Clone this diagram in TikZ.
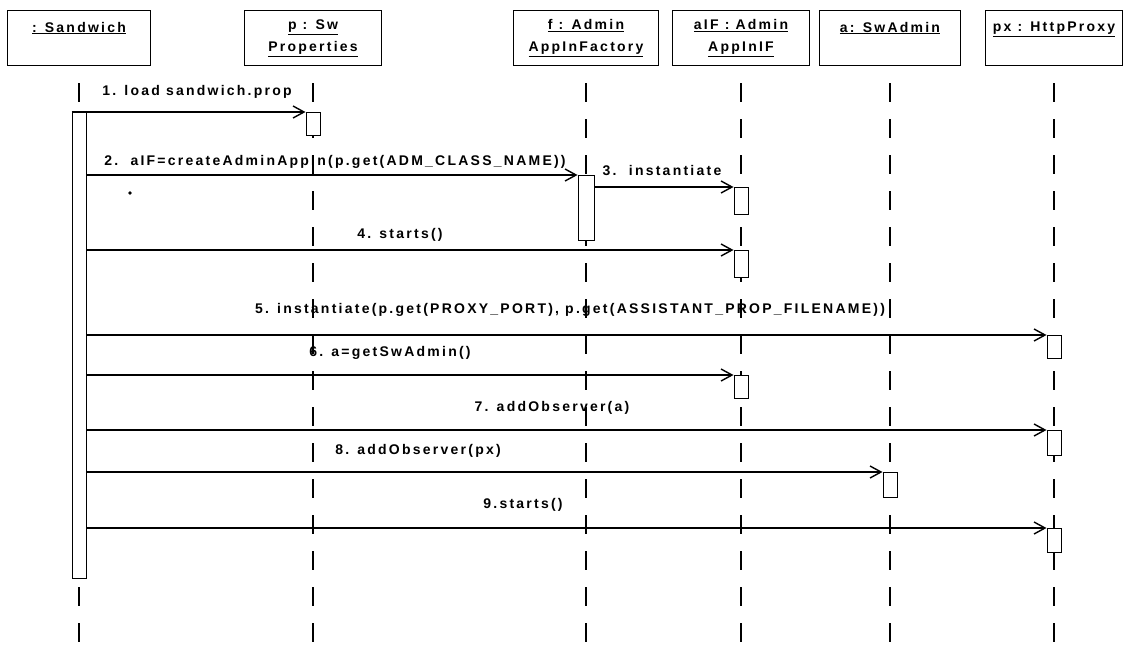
\documentclass[tikz,border=0pt]{standalone}
\usepackage{fontspec}
\newfontfamily\umlfont[LetterSpace=16]{Liberation Sans}
\usetikzlibrary{arrows.meta,positioning,calc}

\begin{document}
\begin{tikzpicture}[
    x=1pt, y=-1pt,
    font=\umlfont\bfseries\fontsize{14}{22}\selectfont,
    obj/.style={draw, line width=1pt, minimum width=137pt, minimum height=55pt,
                anchor=north, align=center, inner sep=2pt},
    life/.style={line width=1.2pt, dash pattern=on 19pt off 17pt},
    act/.style={draw, fill=white, line width=1pt, minimum width=14pt,
                anchor=north, inner sep=0pt},
    msg/.style={-{Straight Barb[length=11pt,width=12pt,line width=1.4pt]}, line width=1.4pt},
    lbl/.style={inner sep=1pt},
    ]
\useasboundingbox (0,0) rectangle (1123,651);

% objects
\node[obj, minimum width=143pt] (sandwich) at (79,10) {\underline{: Sandwich}\\ {}};
\node[obj] (props) at (313,10) {\underline{p : Sw}\\ \underline{Properties}};
\node[obj, minimum width=145pt] (factory) at (586,10) {\underline{f : Admin}\\ \underline{AppInFactory}};
\node[obj] (appin) at (741,10) {\underline{aIF : Admin}\\ \underline{AppInIF}};
\node[obj, minimum width=141pt] (swadmin) at (890,10) {\underline{a: SwAdmin}\\ {}};
\node[obj] (proxy) at (1054,10) {\underline{px : HttpProxy}\\ {}};

% lifelines
\coordinate (top) at (0,83);
\coordinate (bot) at (0,651);
\foreach \o in {sandwich,props,factory,appin,swadmin,proxy}
    \draw[life] (\o.south |- top) -- (\o.south |- bot);

% activations
\node[act, minimum height=466pt] (sact) at (79,112) {};
\node[act, minimum height=23pt] (pact) at (313,112) {};
\node[act, minimum height=65pt, minimum width=16pt] (fact) at (586,175) {};
\node[act, minimum height=27pt] (iact1) at (741,187) {};
\node[act, minimum height=27pt] (iact2) at (741,250) {};
\node[act, minimum height=23pt] (xact1) at (1054,335) {};
\node[act, minimum height=23pt] (iact3) at (741,375) {};
\node[act, minimum height=25pt] (xact2) at (1054,430) {};
\node[act, minimum height=25pt] (aact) at (890,472) {};
\node[act, minimum height=24pt] (xact3) at (1054,528) {};

% messages
\draw[msg] (sact.north west) -- (pact.north west);
\draw[msg] (sact.east |- fact.north) -- (fact.north west);
\draw[msg] (fact.east |- iact1.north) -- (iact1.north west);
\draw[msg] (sact.east |- iact2.north) -- (iact2.north west);
\draw[msg] (sact.east |- xact1.north) -- (xact1.north west);
\draw[msg] (sact.east |- iact3.north) -- (iact3.north west);
\draw[msg] (sact.east |- xact2.north) -- (xact2.north west);
\draw[msg] (sact.east |- aact.north) -- (aact.north west);
\draw[msg] (sact.east |- xact3.north) -- (xact3.north west);

\node[lbl] (l1) at (197,92) {1. load sandwich.prop};
\node[lbl] (l2) at (335,162) {2.\ \ aIF=createAdminAppIn(p.get(ADM\_CLASS\_NAME))};
\node[lbl] (l3) at (662,171) {3.\ \ instantiate};
\node[lbl] (l4) at (400,235) {4. starts()};
\node[lbl] (l5) at (570,310) {5. instantiate(p.get(PROXY\_PORT), p.get(ASSISTANT\_PROP\_FILENAME))};
\node[lbl] (l6) at (390,353) {6. a=getSwAdmin()};
\node[lbl] (l7) at (552,408) {7. addObserver(a)};
\node[lbl] (l8) at (418,451) {8. addObserver(px)};
\node[lbl] (l9) at (523,505) {9.starts()};

\fill (130,193) circle (1.8pt);
\end{tikzpicture}
\end{document}
